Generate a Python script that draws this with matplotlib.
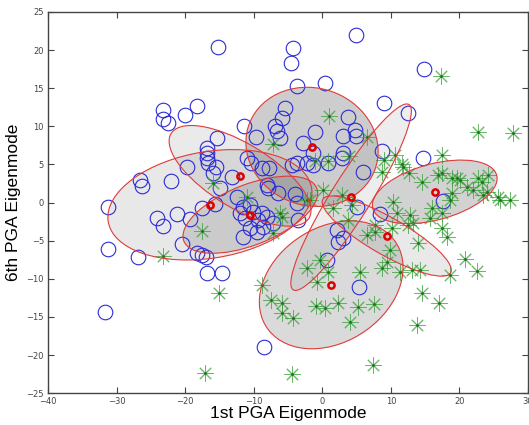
import matplotlib.pyplot as plt
from matplotlib.patches import Ellipse

# blue circles (class 1)
blue_x = [-15.2, -4.3, -4.6, 4.9, -3.7, 0.4, 14.8, 9.0, 12.5, -23.2,
          -20.0, -18.3, -23.2, -22.5, -15.4, -11.4, -9.7, -16.8, -16.8, -16.8,
          -16.7, -15.5, -15.9, -19.7, -22.1, -26.6, -26.3, -14.9, -13.2, -11.0,
          -10.4, -8.8, -12.4, -31.3, -24.1, -23.2, -21.2, -19.3, -20.5, -17.5,
          -15.6, -31.3, -26.9, -18.3, -17.5, -17.0, -16.8, -14.6, -31.7, -8.5,
          -12.0, -11.3, -11.6, -10.5, -10.1, -9.4, -9.5, -11.6, -10.5, -8.6,
          -8.8, -5.4, -5.9, -6.9, -6.6, -6.2, -1.1, -2.8, 3.7, 4.8,
          4.9, 3.0, 3.0, 2.9, -1.4, -2.2, -1.4, 0.8, -3.7, -4.4,
          -7.8, -8.1, -7.9, -6.5, -4.0, -3.7, 5.9, 8.7, 14.7, 5.1,
          8.4, 17.6, -8.1, -7.2, -3.5, 2.1, 2.3, 3.0, 0.7, 5.4]
blue_y = [20.4, 20.3, 18.3, 22.0, 15.3, 15.7, 17.5, 13.1, 11.7, 12.1,
          11.5, 12.7, 11.0, 10.4, 8.5, 10.0, 8.6, 7.2, 6.5, 5.8,
          5.2, 4.7, 3.9, 4.7, 2.8, 3.0, 2.2, 1.9, 3.3, 5.8,
          5.2, 4.5, 0.7, -0.6, -2.0, -3.1, -1.5, -2.2, -5.4, -0.7,
          -0.2, -6.1, -7.2, -6.6, -6.9, -7.2, -9.3, -9.3, -14.4, -19.0,
          -1.4, -2.0, -0.6, -0.3, -1.2, -2.3, -3.9, -4.5, -3.3, -3.2,
          -1.4, 12.4, 11.1, 10.0, 9.4, 8.5, 9.3, 7.8, 11.2, 9.5,
          8.7, 8.7, 6.5, 5.8, 6.5, 5.2, 4.9, 5.2, 5.2, 4.9,
          4.5, 2.3, 1.9, 1.2, 1.1, -0.1, 4.0, 6.8, 5.8, -0.6,
          -1.5, 0.2, -1.9, -2.7, -2.3, -3.6, -5.2, -4.7, -7.5, -11.1]

# green asterisks (class 2)
green_x = [17.3, 22.7, 27.8, 1.0, -7.2, 6.5, 3.9, -1.1, 0.8, 9.0,
           10.6, 11.6, 12.6, 17.5, 14.5, 8.7, 17.5, 19.6, 20.1, 22.7,
           24.2, 23.3, 21.1, 22.0, 18.9, 24.0, 25.6, 27.4, 25.9, 0.1,
           2.9, -2.2, 10.3, 16.0, 17.5, -6.2, 1.6, 18.9, 23.4, 18.6,
           16.9, 11.8, 10.9, 12.8, 13.2, 12.5, 15.7, 17.5, 18.2, 14.0,
           10.2, 9.9, 9.4, 8.7, 11.3, 13.1, 14.2, 18.6, 20.8, 22.6,
           14.5, 17.0, 13.8, 7.4, -4.4, -17.1, -23.2, -17.6, -15.1, -15.9,
           -11.0, -5.9, -7.2, 4.3, 3.7, 7.7, 6.5, 7.7, -2.2, -0.3,
           0.8, -0.8, 5.5, -8.8, -7.5, -5.9, -5.9, -4.3, -0.9, 0.4,
           2.3, 4.0, 5.2, 7.5, -1.8]
green_y = [16.6, 9.3, 9.1, 11.4, 7.7, 8.6, 6.1, 5.4, 5.4, 5.6,
           6.2, 5.1, 3.9, 6.2, 2.7, 4.0, 3.9, 3.2, 2.9, 3.2,
           3.6, 2.7, 2.0, 1.6, 1.2, 1.4, 0.7, 0.3, 0.3, 1.6,
           1.0, 0.3, 0.1, -0.7, -1.4, -1.4, -0.7, 3.2, 1.0, 0.3,
           3.6, 4.6, -1.4, -1.6, -2.7, -2.9, -2.0, -3.3, -4.5, -5.3,
           -3.3, -6.2, -7.8, -8.6, -9.1, -8.8, -8.9, -9.5, -7.4, -9.0,
           -11.9, -13.2, -16.1, -21.3, -22.5, -22.4, -7.0, -3.7, -11.9, 2.6,
           0.7, -1.9, -4.0, -0.3, -2.3, -3.0, -4.3, -3.9, -8.6, -7.5,
           -9.1, -10.4, -9.1, -10.8, -12.8, -13.2, -14.5, -15.2, -13.6, -13.8,
           -13.2, -15.7, -13.7, -13.3, 0.3]

# cluster centres and covariance ellipses
cx = [-1.5, -16.4, -12.0, -10.5, 4.2, 16.4, 1.3, 9.4]
cy = [7.3, -0.3, 3.5, -1.6, 0.7, 1.4, -10.8, -4.4]
ew = [19.4, 30.0, 23.0, 20.6, 29.6, 18.6, 22.0, 21.0]
eh = [15.5, 14.0, 8.6, 8.0, 5.6, 7.4, 15.4, 5.0]
ang = [-10, 8, -28, 19, 55, 13, 25, -27]
shade = [0.39, 0.18, 0.16, 0.28, 0.14, 0.35, 0.29, 0.17]

fig = plt.figure(figsize=(5.29, 4.25), dpi=100)
ax = fig.add_axes([0.091, 0.075, 0.907, 0.897])

for i in range(len(cx)):
    ax.add_patch(Ellipse((cx[i], cy[i]), ew[i], eh[i], angle=ang[i],
                         facecolor="0.5", alpha=shade[i], edgecolor="none", zorder=1))
    ax.add_patch(Ellipse((cx[i], cy[i]), ew[i], eh[i], angle=ang[i],
                         facecolor="none", edgecolor="#e03a3a", linewidth=0.8, zorder=4))

ax.plot(blue_x, blue_y, "o", ms=10.5, mfc="none", mec="#2b2bd6", mew=0.8, zorder=2)
ax.plot(green_x, green_y, marker=(8, 2, 0), ls="none", ms=11.5, mec="#3aa03a",
        mew=0.7, alpha=0.75, zorder=3)
ax.plot(green_x, green_y, ".", ms=2, color="#1f6f1f", zorder=3)
ax.plot(cx, cy, "o", ms=4.5, mfc="none", mec="#e00000", mew=1.8, zorder=5)

ax.set_xlim(-40, 30)
ax.set_ylim(-25, 25)
ax.set_xticks(range(-40, 31, 10))
ax.set_yticks(range(-25, 26, 5))
ax.tick_params(direction="in", top=True, right=True, length=4, width=0.8,
               labelsize=6, labelcolor="#444444", color="#444444", pad=3)
for s in ax.spines.values():
    s.set_color("#444444")
    s.set_linewidth(1.0)

ax.set_xlabel("1st PGA Eigenmode", fontsize=12.5, family="Liberation Sans", labelpad=0)
ax.set_ylabel("6th PGA Eigenmode", fontsize=12.5, family="Liberation Sans", labelpad=4)

fig.savefig("out.png", dpi=100)
